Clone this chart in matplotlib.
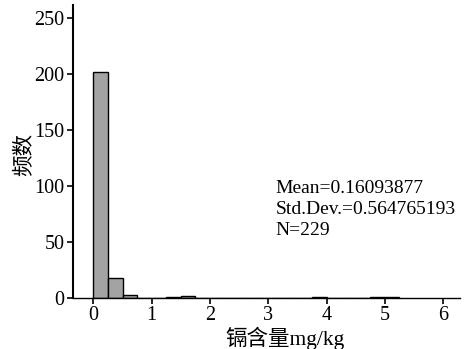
import matplotlib
matplotlib.use("Agg")
import matplotlib.pyplot as plt
import numpy as np

bin_width = 0.25
bin_left = [i * 0.25 for i in range(21)]
counts = [202, 18, 3, 0, 0, 1, 2, 0, 0, 0, 0, 0, 0, 0, 0, 1, 0, 0, 0, 1, 1]
stats_text = ["Mean=0.16093877", "Std.Dev.=0.564765193", "N=229"]
xticks = [0, 1, 2, 3, 4, 5, 6]
yticks = [0, 50, 100, 150, 200, 250]

serif = ['Liberation Serif', 'Noto Sans CJK SC']
plt.rcParams['font.family'] = serif

fig = plt.figure(figsize=(4.66, 3.49), dpi=100)
ax = fig.add_axes([0.1567, 0.1461, 0.8303, 0.8396])
ax.bar(bin_left, counts, width=bin_width, align='edge', color='#a3a3a3',
       edgecolor='black', linewidth=1.0, zorder=2)
ax.set_xlim(-0.35, 6.29)
ax.set_ylim(0, 262)
ax.set_xticks(xticks)
ax.set_yticks(yticks)
ax.spines['top'].set_visible(False)
ax.spines['right'].set_visible(False)
ax.spines['left'].set_linewidth(1.5)
ax.spines['bottom'].set_linewidth(1.0)
ax.tick_params(axis='both', labelsize=14.5, width=1.2, length=4, direction='out', pad=2)
ax.set_xlabel("镉含量mg/kg", fontsize=15.5, family=serif)
ax.set_ylabel("频数", fontsize=15.5, family=serif)
ax.xaxis.set_label_coords(0.548, -0.137)
ax.xaxis.label.set_va('center')
ax.yaxis.set_label_coords(-0.125, 0.49)
ax.yaxis.label.set_va('center')
ax.text(3.13, 79, "\n".join(stats_text), fontsize=14, va='center', ha='left',
        linespacing=1.3)
fig.savefig("out.png", dpi=100)
